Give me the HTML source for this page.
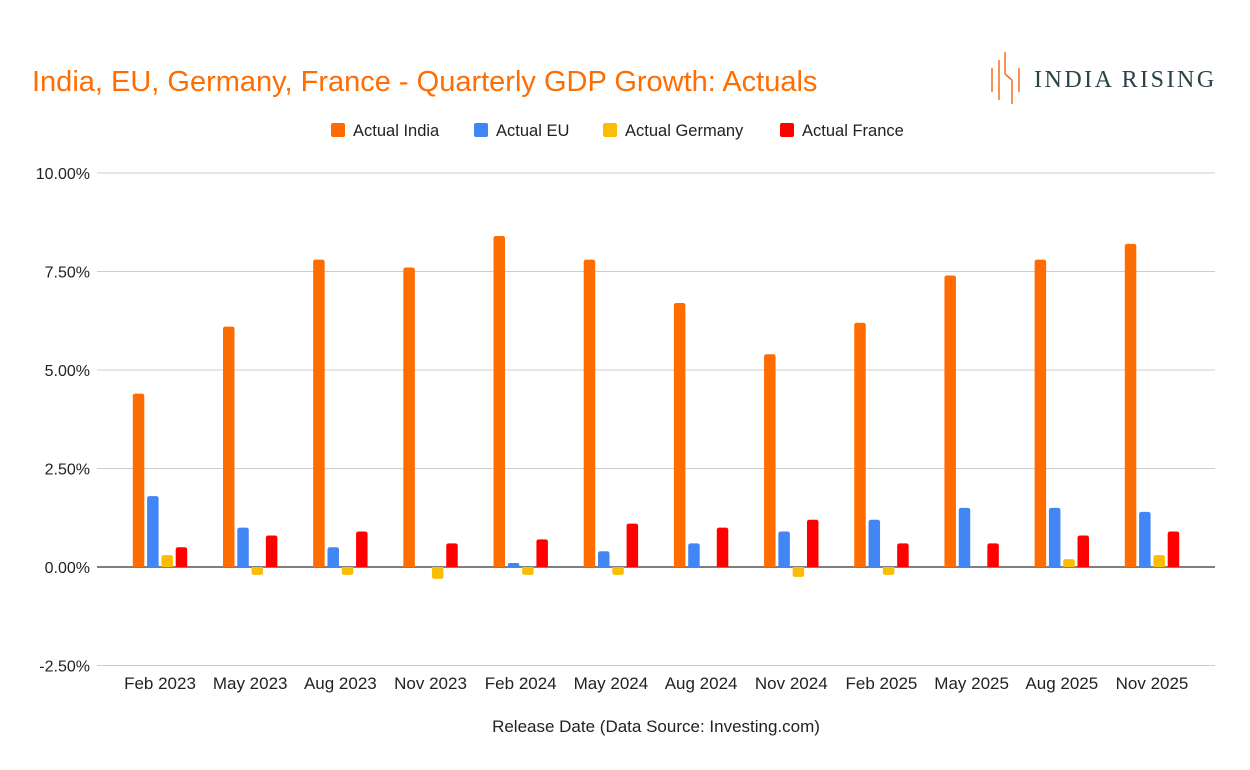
<!DOCTYPE html>
<html><head><meta charset="utf-8"><style>
body{margin:0;background:#fff;font-family:"Liberation Sans",Arial,sans-serif}
svg{display:block}
</style></head><body>
<svg id="c" width="1250" height="770" viewBox="0 0 1250 770">
<rect width="1250" height="770" fill="#fff"/>
<text x="32" y="91" font-size="29" fill="#ff6d01">India, EU, Germany, France - Quarterly GDP Growth: Actuals</text>
<g>
<g stroke="#f37021" stroke-width="1.5">
<line x1="992" y1="68" x2="992" y2="92"/><line x1="999" y1="60" x2="999" y2="100"/>
<line x1="1005" y1="52" x2="1005" y2="74"/><line x1="1005" y1="74" x2="1012" y2="80"/><line x1="1012" y1="80" x2="1012" y2="104"/>
<line x1="1019" y1="68" x2="1019" y2="92"/>
</g>
<text x="1034" y="87" font-family="Liberation Serif,serif" font-size="24" letter-spacing="2.5" fill="#2a4248">INDIA RISING</text>
</g>
<g id="legend"></g>
<g id="grid"></g>
<g id="bars"></g>
<g id="xl"></g>
<text x="656" y="732" text-anchor="middle" font-size="17" fill="#222">Release Date (Data Source: Investing.com)</text>
</svg>
<script>
const categories=["Feb 2023","May 2023","Aug 2023","Nov 2023","Feb 2024","May 2024","Aug 2024","Nov 2024","Feb 2025","May 2025","Aug 2025","Nov 2025"];
const india=[4.4,6.1,7.8,7.6,8.4,7.8,6.7,5.4,6.2,7.4,7.8,8.2];
const eu=[1.8,1.0,0.5,0.0,0.1,0.4,0.6,0.9,1.2,1.5,1.5,1.4];
const germany=[0.3,-0.2,-0.2,-0.3,-0.2,-0.2,0.0,-0.25,-0.2,0.0,0.2,0.3];
const france=[0.5,0.8,0.9,0.6,0.7,1.1,1.0,1.2,0.6,0.6,0.8,0.9];
const yTicks=[-2.5,0,2.5,5,7.5,10];
const yTickLabels=["-2.50%","0.00%","2.50%","5.00%","7.50%","10.00%"];
const seriesNames=["Actual India","Actual EU","Actual Germany","Actual France"];
const NS="http://www.w3.org/2000/svg";
const colors=["#ff6d01","#4285f4","#fbbc04","#ff0000"];
const L=97,R=1215,y0=567,pxPer=39.4;
const y=v=>y0-v*pxPer;
const firstC=160,lastC=1152;
const cw=(lastC-firstC)/(categories.length-1);
const cx=i=>firstC+cw*i;
function mk(t,a,p){const e=document.createElementNS(NS,t);for(const k in a)e.setAttribute(k,a[k]);p.appendChild(e);return e;}
const grid=document.getElementById('grid');
yTicks.forEach((v,i)=>{
 const ln=mk('line',{x1:L,x2:R,y1:y(v),y2:y(v),stroke:v===0?'#333':'#ccc','stroke-width':v===0?1.3:1},grid);
 
 
 const t=mk('text',{x:90,y:y(v)+6,'text-anchor':'end','font-size':16,fill:'#222'},grid);
 t.textContent=yTickLabels[i];
 
 
});
const bars=document.getElementById('bars');
const data=[india,eu,germany,france];
const bw=11.5,step=14.3;
function bar(x,v,col){
 const top=y(Math.max(v,0)),bot=y(Math.min(v,0));const h=Math.max(bot-top,0);
 if(h<0.5)return null;
 const r=Math.min(2.5,h/2);
 let d;
 if(v>=0)d=`M${x},${bot}V${top+r}Q${x},${top} ${x+r},${top}H${x+bw-r}Q${x+bw},${top} ${x+bw},${top+r}V${bot}Z`;
 else d=`M${x},${top}V${bot-r}Q${x},${bot} ${x+r},${bot}H${x+bw-r}Q${x+bw},${bot} ${x+bw},${bot-r}V${top}Z`;
 return mk('path',{d:d,fill:col},bars);
}
categories.forEach((c,i)=>{
 data.forEach((s,j)=>{
  const x=cx(i)-2*step+j*step+(step-bw)/2;
  const b=bar(x,s[i],colors[j]);
  if(b){
  }
 });
 const t=mk('text',{x:cx(i),y:689,'text-anchor':'middle','font-size':17,fill:'#222'},document.getElementById('xl'));
 t.textContent=c;
 
 
});
const lg=document.getElementById('legend');
const lx=[331,474,603,780];
seriesNames.forEach((n,j)=>{
 const g=mk('g',{},lg);
 
 
 mk('rect',{x:lx[j],y:123,width:14,height:14,rx:2,fill:colors[j]},g);
 const t=mk('text',{x:lx[j]+22,y:136,'font-size':16.5,fill:'#222'},g);t.textContent=n;
});
</script>
</body></html>
